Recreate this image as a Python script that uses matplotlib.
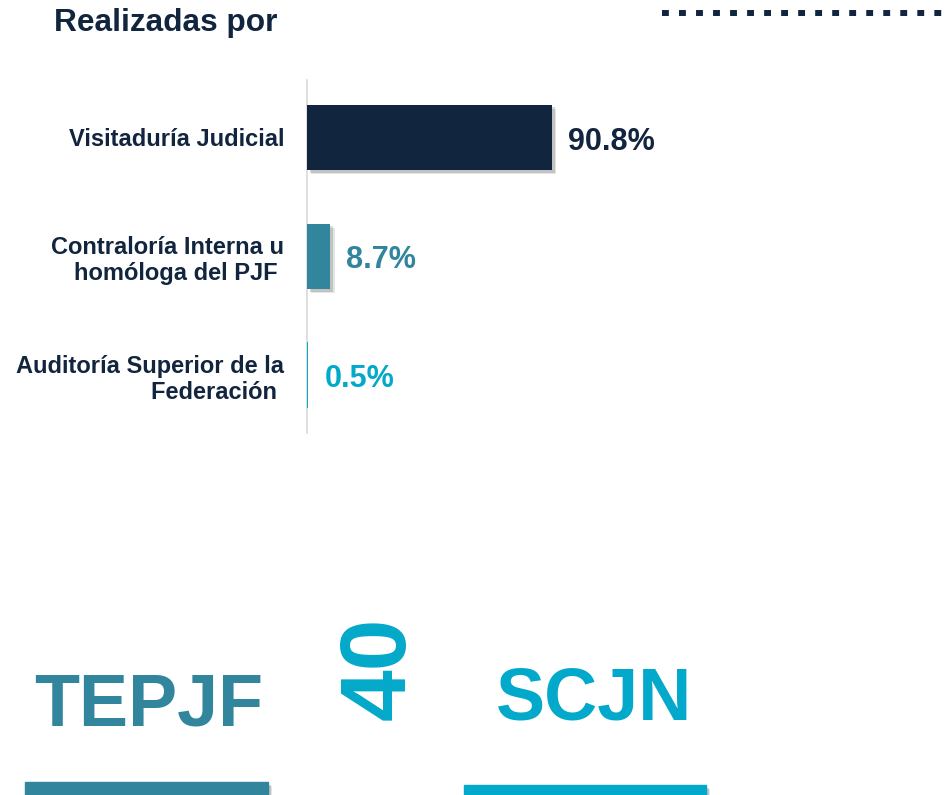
import matplotlib
matplotlib.use("Agg")
import matplotlib.pyplot as plt
import matplotlib.patheffects as pe
from matplotlib import font_manager
from matplotlib.patches import Rectangle
from matplotlib.lines import Line2D

plt.rcParams['font.family'] = ['Liberation Sans', 'DejaVu Sans']
plt.rcParams['font.weight'] = 'bold'

# data
categories = ["Visitaduría Judicial",
              "Contraloría Interna u\nhomóloga del PJF ",
              "Auditoría Superior de la\nFederación "]
values = [90.8, 8.7, 0.5]
bar_colors = ["#12253F", "#31869D", "#03A9CA"]
title = "Realizadas por"
bottom_left = "TEPJF"
bottom_mid = "40"
bottom_right = "SCJN"

NAVY = "#12253F"
TEAL = "#31869D"
CYAN = "#03A9CA"

W, H = 949, 795
fig = plt.figure(figsize=(W / 100, H / 100), dpi=100)

def fx(px):
    return px / W

def fy(py):
    return 1 - py / H

# soft-ish drop shadow
shadow = [pe.SimplePatchShadow(offset=(3, -3), shadow_rgbFace='black', alpha=0.1),
          pe.SimplePatchShadow(offset=(2, -2), shadow_rgbFace='black', alpha=0.15),
          pe.Normal()]

# bar axes: left spine at x=307, spans y=80..433
ax = fig.add_axes([fx(307), fy(433), 270 / W, 353 / H])
bars = ax.barh(range(len(values)), values, height=0.55, color=bar_colors, zorder=3)
for b, v in zip(bars, values):
    if v > 2:
        b.set_path_effects(shadow)
ax.set_xlim(0, 100)
ax.set_ylim(2.487, -0.483)
for s in ['top', 'right', 'bottom']:
    ax.spines[s].set_visible(False)
ax.spines['left'].set_color('#D9D9D9')
ax.spines['left'].set_linewidth(1.2)
ax.set_xticks([])
ax.set_yticks(range(len(categories)), labels=categories)
ax.tick_params(axis='y', length=0, pad=16.5, labelsize=17, labelcolor=NAVY)

for i, (v, c) in enumerate(zip(values, bar_colors)):
    ax.annotate(f"{v:.1f}%", (v, i), xytext=(11.5, -3), textcoords='offset points',
                va='center', ha='left', fontsize=22, fontweight='bold', color=c,
                annotation_clip=False)

fig.text(fx(54), fy(31), title, fontsize=22.8, fontweight='bold', color=NAVY,
         ha='left', va='baseline')

# dotted line, top right
fig.add_artist(Line2D([fx(662), fx(952)], [fy(13), fy(13)], color=NAVY,
                      linewidth=4.3, dashes=[1.15, 1.7], transform=fig.transFigure))

# bottom texts
try:
    font_manager.findfont('Liberation Sans Narrow', fallback_to_default=False)
    big_family = ['Liberation Sans Narrow', 'Liberation Sans']
    big_size = 62
except Exception:
    big_family = ['Liberation Sans', 'DejaVu Sans']
    big_size = 53

fig.text(fx(34), fy(726), bottom_left, family=big_family, fontsize=big_size,
         fontweight='bold', color=TEAL, ha='left', va='baseline')
fig.text(fx(496), fy(719), bottom_right, family=big_family, fontsize=big_size,
         fontweight='bold', color=CYAN, ha='left', va='baseline')
fig.text(fx(381), fy(668), bottom_mid, fontsize=67, fontweight='bold', color=CYAN,
         rotation=90, ha='center', va='center')

# bottom bars (cut by the lower edge)
for x0, x1, y0, c in [(25, 268, 782, TEAL), (464, 706, 785, CYAN)]:
    r = Rectangle((fx(x0), 0), fx(x1) - fx(x0), fy(y0), color=c,
                  transform=fig.transFigure)
    r.set_path_effects(shadow)
    fig.add_artist(r)

fig.savefig("out.png", dpi=100)
